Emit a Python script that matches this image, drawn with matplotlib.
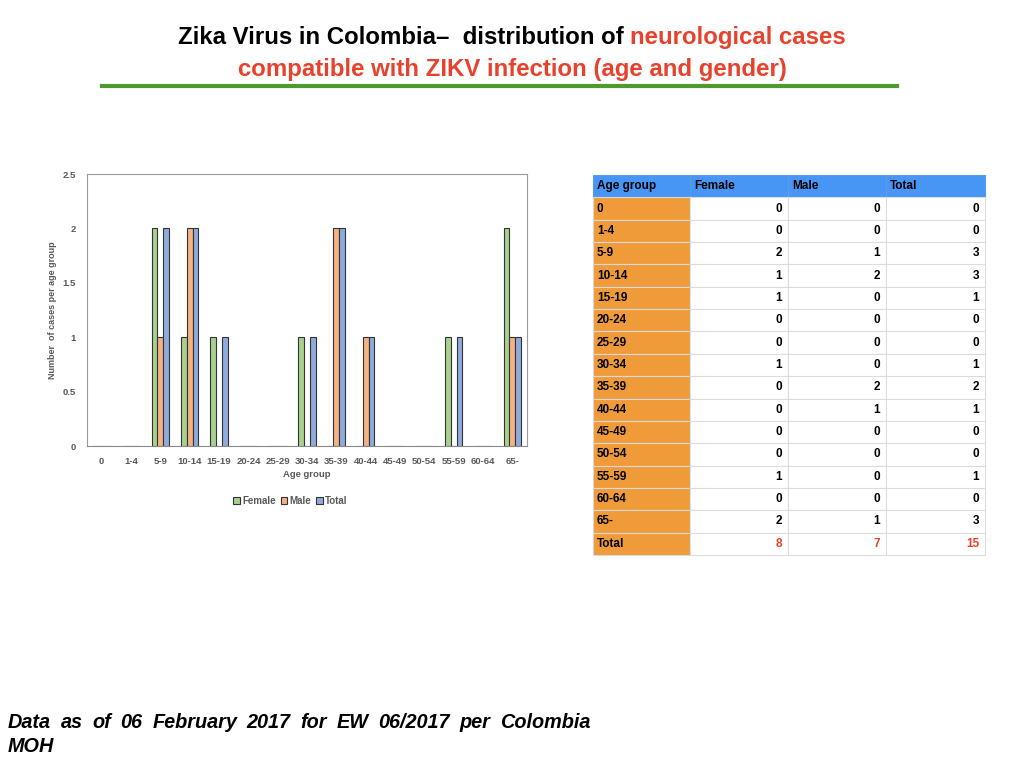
import numpy as np
import matplotlib
matplotlib.use("Agg")
import matplotlib.pyplot as plt

age_groups = ["0", "1-4", "5-9", "10-14", "15-19", "20-24", "25-29", "30-34",
              "35-39", "40-44", "45-49", "50-54", "55-59", "60-64", "65-"]
# values as drawn in the bar chart
chart_female = [0, 0, 2, 1, 1, 0, 0, 1, 0, 0, 0, 0, 1, 0, 2]
chart_male = [0, 0, 1, 2, 0, 0, 0, 0, 2, 1, 0, 0, 0, 0, 1]
chart_total = [0, 0, 2, 2, 1, 0, 0, 1, 2, 1, 0, 0, 1, 0, 1]
# values as listed in the table
tab_female = [0, 0, 2, 1, 1, 0, 0, 1, 0, 0, 0, 0, 1, 0, 2]
tab_male = [0, 0, 1, 2, 0, 0, 0, 0, 2, 1, 0, 0, 0, 0, 1]
tab_total = [0, 0, 3, 3, 1, 0, 0, 1, 2, 1, 0, 0, 1, 0, 3]
sum_row = ["Total", "8", "7", "15"]
col_labels = ["Age group", "Female", "Male", "Total"]

title_black = "Zika Virus in Colombia\u2013  distribution of "
title_red1 = "neurological cases"
title_red2 = "compatible with ZIKV infection (age and gender)"
footer_words = ["Data", "as", "of", "06", "February", "2017", "for", "EW",
                "06/2017", "per", "Colombia"]
footer_last = "MOH"

plt.rcParams['font.family'] = ['Liberation Sans', 'DejaVu Sans']

W, H = 1024, 768
fig = plt.figure(figsize=(10.24, 7.68), dpi=100)

# ---- bar chart
ax = fig.add_axes([87 / W, 1 - 446 / H, 440 / W, 272 / H])
x = np.arange(len(age_groups))
bw = 0.2
c_f, c_m, c_t = "#a9d18e", "#f4b183", "#8faadc"
ax.bar(x - bw, chart_female, bw, color=c_f, edgecolor="#333333", linewidth=0.8, label="Female")
ax.bar(x, chart_male, bw, color=c_m, edgecolor="#333333", linewidth=0.8, label="Male")
ax.bar(x + bw, chart_total, bw, color=c_t, edgecolor="#333333", linewidth=0.8, label="Total")
ax.set_xlim(-0.5, len(age_groups) - 0.5)
ax.set_ylim(0, 2.5)
ax.set_yticks([0, 0.5, 1, 1.5, 2, 2.5])
ax.set_yticklabels(["0", "0.5", "1", "1.5", "2", "2.5"])
ax.set_xticks(x)
ax.set_xticklabels(age_groups)
ax.tick_params(length=0, labelsize=6.8, labelcolor="#595959", pad=8)
for lab in ax.get_xticklabels() + ax.get_yticklabels():
    lab.set_fontweight("bold")
for s in ax.spines.values():
    s.set_color("#9a9a9a")
    s.set_linewidth(0.8)
ax.spines["bottom"].set_color("#8a8a8a")
ax.set_xlabel("Age group", fontsize=6.8, fontweight="bold", color="#595959", labelpad=3)
ax.set_ylabel("Number  of cases per age group", fontsize=6.5, fontweight="bold",
              color="#595959", labelpad=4)
leg = ax.legend(loc="upper center", bbox_to_anchor=(0.462, -0.15), ncol=3, frameon=False,
                handlelength=0.7, handleheight=0.7, handletextpad=0.2, columnspacing=0.5,
                prop={"size": 7, "weight": "bold"})
for t in leg.get_texts():
    t.set_color("#595959")

# ---- table
tax = fig.add_axes([593 / W, 1 - 555 / H, (985 - 593) / W, (555 - 175) / H])
tax.axis("off")
rows = [[g, str(f), str(m), str(t)] for g, f, m, t in zip(age_groups, tab_female, tab_male, tab_total)]
rows.append(sum_row)
tbl = tax.table(cellText=rows, colLabels=col_labels, bbox=[0, 0, 1, 1],
                colWidths=[97, 98, 98, 99])
tbl.auto_set_font_size(False)
nrows = len(rows) + 1
for (r, c), cell in tbl.get_celld().items():
    txt = cell.get_text()
    txt.set_fontsize(8.5)
    txt.set_fontweight("bold")
    cell.set_linewidth(0.8)
    if r == 0:
        cell.set_facecolor("#4796f6")
        cell.set_edgecolor("#5a9be8")
        cell._loc = "left"
        txt.set_ha("left")
        cell.PAD = 0.04
    elif c == 0:
        cell.set_facecolor("#f09b3a")
        cell.set_edgecolor("#d8d8d8")
        cell._loc = "left"
        txt.set_ha("left")
        cell.PAD = 0.04
    else:
        cell.set_facecolor("white")
        cell.set_edgecolor("#dcdcdc")
        cell._loc = "right"
        txt.set_ha("right")
        cell.PAD = 0.06
        if r == nrows - 1:
            txt.set_color("#e8412c")

# ---- title with mixed colours
fig.canvas.draw()
renderer = fig.canvas.get_renderer()
tkw = dict(fontsize=17.3, fontweight="bold", va="baseline")
t1 = fig.text(0, 0, title_black, color="black", **tkw)
t2 = fig.text(0, 0, title_red1, color="#e8412c", **tkw)
w1 = t1.get_window_extent(renderer).width
w2 = t2.get_window_extent(renderer).width
x0 = W * 0.5 - (w1 + w2) / 2
t1.set_position((x0 / W, 1 - 44 / H))
t2.set_position(((x0 + w1) / W, 1 - 44 / H))
fig.text(0.5, 1 - 76 / H, title_red2, color="#e8412c", ha="center", **tkw)

fig.add_artist(plt.Line2D([102 / W, 897 / W], [1 - 86 / H, 1 - 86 / H],
                          color="#4e9a2f", linewidth=3, transform=fig.transFigure))

# ---- justified footer
fkw = dict(fontsize=14.3, fontweight="bold", style="italic", va="baseline", color="black")
texts = [fig.text(0, 1 - 728 / H, wd, **fkw) for wd in footer_words]
widths = [t.get_window_extent(renderer).width for t in texts]
left, right = 8, 590
gap = (right - left - sum(widths)) / (len(texts) - 1)
pos = left
for t, wdt in zip(texts, widths):
    t.set_x(pos / W)
    pos += wdt + gap
fig.text(left / W, 1 - 752 / H, footer_last, **fkw)

fig.savefig("out.png", dpi=100)
